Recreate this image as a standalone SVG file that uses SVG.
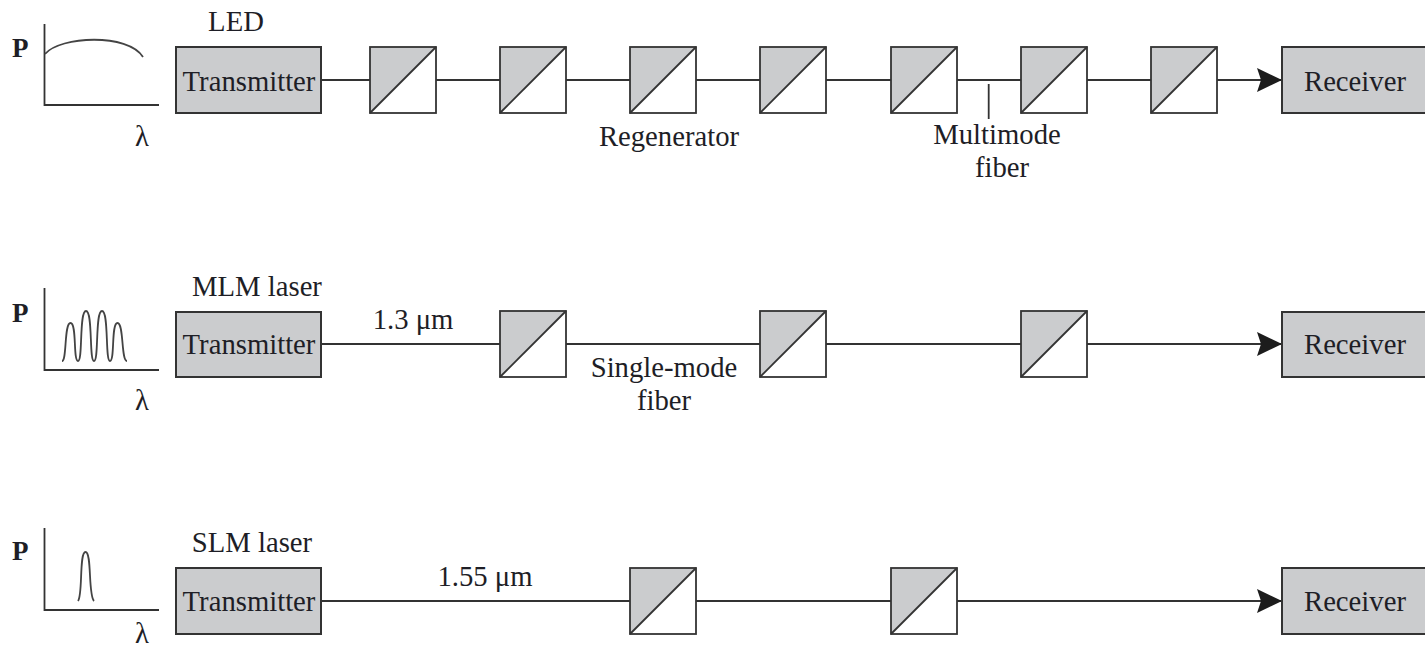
<svg xmlns="http://www.w3.org/2000/svg" xmlns:xlink="http://www.w3.org/1999/xlink" width="1425" height="650" viewBox="0 0 1425 650">
<style>
text{font-family:"Liberation Serif","Times New Roman",serif;font-size:28.7px;fill:#1e1e26}
.box{fill:#cbccce;stroke:#333;stroke-width:2}
.ln{fill:none;stroke:#333;stroke-width:1.8}
.sp{fill:none;stroke:#444;stroke-width:1.8}
.mid{text-anchor:middle}
.b{font-weight:bold;font-size:27px}
.white{fill:#fff;stroke:none}
.grey{fill:#cbccce;stroke:none}
</style>
<defs>
<marker id="arrow" markerUnits="userSpaceOnUse" markerWidth="26" markerHeight="24" refX="25" refY="12" orient="auto"><path d="M0 0L25 12L0 24L4 12Z" fill="#1c1c1c"/></marker>
<g id="regen">
<rect class="white" x="0" y="0" width="66" height="66"/>
<path class="grey" d="M0 0H66L0 66Z"/>
<rect class="ln" x="0" y="0" width="66" height="66"/>
<path class="ln" d="M0 66L66 0"/>
</g>
</defs>
<rect width="1425" height="650" fill="#fff"/>
<g id="connectors">
<path class="ln" d="M321 80H370M436 80H500M566 80H630M696 80H760M826 80H891M957 80H1021M1087 80H1151"/>
<path class="ln" d="M1217 80H1282" marker-end="url(#arrow)"/>
<path class="ln" d="M988.700 84V119"/>
<path class="ln" d="M321 344H500M566 344H760M826 344H1021"/>
<path class="ln" d="M1087 344H1282" marker-end="url(#arrow)"/>
<path class="ln" d="M321 601H630M696 601H891"/>
<path class="ln" d="M957 601H1282" marker-end="url(#arrow)"/>
</g>
<g id="spectrum-led">
<path class="ln" d="M44.500 24V105H159"/>
<path class="sp" d="M45 54C60 36 128 33 143 57"/>
<text class="b" x="12" y="57">P</text><text x="135" y="146">λ</text>
</g>
<g id="spectrum-mlm">
<path class="ln" d="M44.500 288V370H159"/>
<path class="sp" d="M62 361C67 361 64 323 70.500 323C77 323 73 361 78 361C83 361 79 311 86 311C93 311 89 361 94 361C99 361 95 311 102 311C109 311 105 361 110 361C115 361 111 323 117.500 323C124 323 121 361 127 361"/>
<text class="b" x="12" y="322">P</text><text x="135" y="410">λ</text>
</g>
<g id="spectrum-slm">
<path class="ln" d="M44.500 528V610H159"/>
<path class="sp" d="M78 601C83 595 79 552 85.500 552C92 552 88 595 94 601"/>
<text class="b" x="12" y="560">P</text><text x="135" y="643">λ</text>
</g>
<g id="led-transmitter"><rect class="box" x="176" y="47" width="145" height="66"/><text class="mid" x="249" y="91">Transmitter</text></g>
<g id="mlm-transmitter"><rect class="box" x="176" y="312" width="145" height="65"/><text class="mid" x="249" y="354">Transmitter</text></g>
<g id="slm-transmitter"><rect class="box" x="176" y="568" width="145" height="66"/><text class="mid" x="249" y="611">Transmitter</text></g>
<g id="led-receiver"><rect class="box" x="1282" y="47" width="150" height="66"/><text x="1304" y="91">Receiver</text></g>
<g id="mlm-receiver"><rect class="box" x="1282" y="312" width="150" height="65"/><text x="1304" y="354">Receiver</text></g>
<g id="slm-receiver"><rect class="box" x="1282" y="568" width="150" height="66"/><text x="1304" y="611">Receiver</text></g>
<g id="regen-1-1"><use xlink:href="#regen" href="#regen" x="370" y="47"/></g>
<g id="regen-1-2"><use xlink:href="#regen" href="#regen" x="500" y="47"/></g>
<g id="regen-1-3"><use xlink:href="#regen" href="#regen" x="630" y="47"/></g>
<g id="regen-1-4"><use xlink:href="#regen" href="#regen" x="760" y="47"/></g>
<g id="regen-1-5"><use xlink:href="#regen" href="#regen" x="891" y="47"/></g>
<g id="regen-1-6"><use xlink:href="#regen" href="#regen" x="1021" y="47"/></g>
<g id="regen-1-7"><use xlink:href="#regen" href="#regen" x="1151" y="47"/></g>
<g id="regen-2-1"><use xlink:href="#regen" href="#regen" x="500" y="311"/></g>
<g id="regen-2-2"><use xlink:href="#regen" href="#regen" x="760" y="311"/></g>
<g id="regen-2-3"><use xlink:href="#regen" href="#regen" x="1021" y="311"/></g>
<g id="regen-3-1"><use xlink:href="#regen" href="#regen" x="630" y="568"/></g>
<g id="regen-3-2"><use xlink:href="#regen" href="#regen" x="891" y="568"/></g>
<g id="labels">
<text class="mid" x="236" y="31">LED</text>
<text class="mid" x="669" y="146">Regenerator</text>
<text class="mid" x="997" y="144">Multimode</text>
<text class="mid" x="1002" y="177">fiber</text>
<text class="mid" x="257" y="296">MLM laser</text>
<text class="mid" x="413" y="329">1.3 μm</text>
<text class="mid" x="664" y="377">Single-mode</text>
<text class="mid" x="664" y="410">fiber</text>
<text class="mid" x="252" y="552">SLM laser</text>
<text class="mid" x="485" y="586">1.55 μm</text>
</g>
</svg>
